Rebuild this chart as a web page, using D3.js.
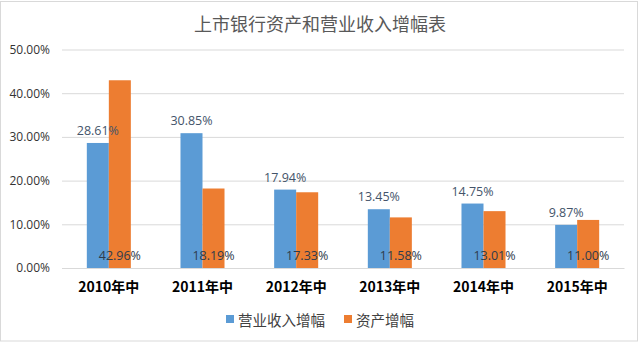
<!DOCTYPE html>
<html>
<head>
<meta charset="utf-8">
<script src="https://cdn.jsdelivr.net/npm/d3@7"></script>
<style>
  html, body { margin: 0; padding: 0; background: #fff; }
  svg { display: block; }
</style>
</head>
<body>
<svg id="chart" width="640" height="343"></svg>
<script>
// Listed banks: half-year growth of operating revenue and assets
const categories = ["2010年中", "2011年中", "2012年中", "2013年中", "2014年中", "2015年中"];
const revenueGrowth = [28.61, 30.85, 17.94, 13.45, 14.75, 9.87];
const assetGrowth = [42.96, 18.19, 17.33, 11.58, 13.01, 11.00];
const yTicks = [0, 10, 20, 30, 40, 50];
const seriesNames = ["营业收入增幅", "资产增幅"];
const seriesColors = ["#5B9BD5", "#ED7D31"];

const svg = d3.select("#chart");
const plot = { left: 62, right: 624, top: 49.5, bottom: 268 };

// outer frame
svg.append("rect")
  .attr("x", 0.5).attr("y", 1.5)
  .attr("width", 637).attr("height", 339.5)
  .attr("fill", "#fff").attr("stroke", "#d9d9d9").attr("stroke-width", 1);

// title
svg.append("text")
  .attr("x", 320).attr("y", 31)
  .attr("text-anchor", "middle")
  .attr("font-family", "'Noto Sans CJK SC', sans-serif")
  .attr("font-size", 18)
  .attr("fill", "#595959")
  .text("上市银行资产和营业收入增幅表");

const x = d3.scaleBand()
  .domain(categories)
  .range([plot.left, plot.right])
  .paddingInner(0.53)
  .paddingOuter(0.265);

const sub = d3.scaleBand()
  .domain(seriesNames)
  .range([0, x.bandwidth()]);

const y = d3.scaleLinear()
  .domain([0, 50])
  .range([plot.bottom, plot.top]);

// gridlines and tick labels
const yAxis = d3.axisLeft(y)
  .tickValues(yTicks)
  .tickSize(-(plot.right - plot.left))
  .tickPadding(12)
  .tickFormat(d => d.toFixed(2) + "%");

const gy = svg.append("g")
  .attr("transform", `translate(${plot.left},0)`)
  .call(yAxis);
gy.select(".domain").remove();
gy.selectAll(".tick line").attr("stroke", "#d9d9d9").attr("stroke-width", 1);
gy.selectAll(".tick text")
  .attr("font-family", "'Open Sans', 'Noto Sans', sans-serif")
  .attr("font-size", 12)
  .attr("fill", "#333");

// category axis
const xAxis = d3.axisBottom(x).tickSize(0).tickPadding(14);
const gx = svg.append("g")
  .attr("transform", `translate(0,${plot.bottom})`)
  .call(xAxis);
gx.select(".domain").attr("stroke", "#d9d9d9");
gx.selectAll(".tick text")
  .attr("font-family", "'Noto Sans CJK SC', sans-serif")
  .attr("font-size", 14)
  .attr("font-weight", "bold")
  .attr("fill", "#000");

const rows = categories.map((c, i) => ({
  cat: c,
  values: [revenueGrowth[i], assetGrowth[i]]
}));

const groups = svg.append("g").selectAll("g")
  .data(rows).join("g")
  .attr("transform", d => `translate(${x(d.cat)},0)`);

groups.selectAll("rect")
  .data(d => d.values.map((v, k) => ({ v, k })))
  .join("rect")
  .attr("x", d => sub(seriesNames[d.k]))
  .attr("width", sub.bandwidth())
  .attr("y", d => y(d.v))
  .attr("height", d => y(0) - y(d.v))
  .attr("fill", d => seriesColors[d.k]);

// revenue labels sit above the blue bars
groups.append("text")
  .attr("x", sub(seriesNames[0]) + sub.bandwidth() / 2)
  .attr("y", d => y(d.values[0]) - 8)
  .attr("text-anchor", "middle")
  .attr("font-family", "'Open Sans', 'Noto Sans', sans-serif")
  .attr("font-size", 12.5)
  .attr("fill", "#44546A")
  .text(d => d.values[0].toFixed(2) + "%");

// asset labels sit at the base of the orange bars
groups.append("text")
  .attr("x", sub(seriesNames[1]) + sub.bandwidth() / 2)
  .attr("y", y(0) - 8)
  .attr("text-anchor", "middle")
  .attr("font-family", "'Open Sans', 'Noto Sans', sans-serif")
  .attr("font-size", 12.5)
  .attr("fill", "#2f3b4c")
  .text(d => d.values[1].toFixed(2) + "%");

// legend
const legend = svg.append("g");
const legendItems = [
  { name: seriesNames[0], color: seriesColors[0], x: 226 },
  { name: seriesNames[1], color: seriesColors[1], x: 344 }
];
legendItems.forEach(it => {
  legend.append("rect")
    .attr("x", it.x).attr("y", 315)
    .attr("width", 8).attr("height", 8)
    .attr("fill", it.color);
  legend.append("text")
    .attr("x", it.x + 12).attr("y", 326)
    .attr("font-family", "'Noto Sans CJK SC', sans-serif")
    .attr("font-size", 14.5)
    .attr("fill", "#404040")
    .text(it.name);
});
</script>
</body>
</html>
